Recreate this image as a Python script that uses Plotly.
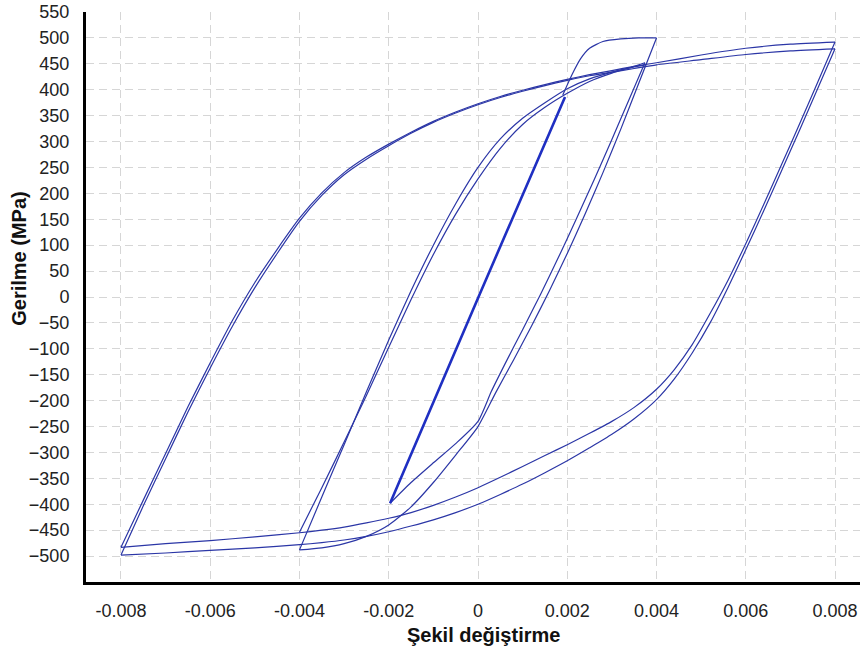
import plotly.graph_objects as go

# ---- Cyclic stress-strain test: strain (-) vs stress (MPa) ----

# Large loop (+/-0.008): ascending branches of the two cycles
big_up_x = [-0.008, -0.0075, -0.007, -0.0065, -0.006, -0.0055, -0.005, -0.0045, -0.004,
            -0.0035, -0.003, -0.0025, -0.002, -0.0015, -0.001, -0.0005, 0.0, 0.0005, 0.001,
            0.0015, 0.002, 0.0025, 0.003, 0.0035, 0.004, 0.005, 0.006, 0.007, 0.008]
big_up1_y = [-483, -392, -302, -212, -127, -45, 28, 92, 152, 201, 240, 270, 295, 318, 339,
             357, 373, 387, 399, 410, 420, 429, 437, 445, 452, 467, 480, 488, 492]
big_up2_y = [-498, -403, -312, -222, -137, -56, 18, 84, 146, 196, 236, 266, 292, 316, 337,
             355, 371, 385, 397, 408, 418, 427, 434, 441, 448, 458, 468, 475, 479]

# Large loop: descending branches of the two cycles
big_down_x = [0.008, 0.0076, 0.0072, 0.0068, 0.0064, 0.006, 0.0056, 0.0052, 0.0048, 0.0044,
              0.004, 0.0035, 0.003, 0.0025, 0.002, 0.0015, 0.001, 0.0005, 0.0, -0.0005, -0.001,
              -0.0015, -0.002, -0.0025, -0.003, -0.0035, -0.004, -0.005, -0.006, -0.007, -0.008]
big_down1_y = [492, 412, 333, 255, 178, 103, 32, -32, -92, -140, -178, -213, -240, -263, -285,
               -306, -327, -348, -368, -386, -402, -416, -427, -436, -444, -450, -455, -463,
               -470, -476, -483]
big_down2_y = [479, 400, 321, 243, 166, 91, 18, -50, -108, -158, -198, -235, -265, -291, -316,
               -339, -361, -381, -400, -416, -430, -442, -453, -462, -469, -474, -478, -484,
               -489, -494, -498]

# Medium loop (+/-0.004): ascending branches
mid_up_x = [-0.004, -0.0035, -0.003, -0.0025, -0.002, -0.0015, -0.001, -0.0005, 0.0, 0.0005,
            0.001, 0.0015, 0.002, 0.0025, 0.003, 0.0035, 0.00374]
mid_up1_y = [-488, -386, -285, -183, -83, 12, 100, 180, 250, 305, 345, 375, 402, 421, 434,
             444, 448]
mid_up2_y = [-454, -368, -280, -190, -97, -5, 82, 160, 228, 287, 333, 366, 393, 416, 432,
             445, 452]

# Medium loop: descending branch from the first peak (ends at -0.004)
mid_down1_x = [0.004, 0.0036, 0.0032, 0.0028, 0.0024, 0.002, 0.0016, 0.0012, 0.0008, 0.0004,
               0.0, -0.0005, -0.001, -0.0015, -0.002, -0.0025, -0.003, -0.0035, -0.004]
mid_down1_y = [500, 412, 324, 240, 160, 84, 12, -56, -121, -184, -250, -305, -358, -405, -440,
               -462, -476, -484, -488]

# Medium loop: descending branch from the second peak (ends at -0.002)
mid_down2_x = [0.00374, 0.0034, 0.003, 0.0026, 0.0022, 0.0018, 0.0014, 0.001, 0.0006, 0.0003,
               0.0, -0.0005, -0.001, -0.0015, -0.00197]
mid_down2_y = [452, 384, 304, 226, 150, 76, 5, -63, -130, -182, -240, -283, -320, -358, -398]

# Small elastic cycles (+/-0.002)
small_x = [-0.00197, 0.00004, 0.00195]
small_y = [-398, 6, 386]

# First loading up to 0.004
first_top_x = [0.0019, 0.0021, 0.0023, 0.0025, 0.0028, 0.0032, 0.0036, 0.004]
first_top_y = [390, 428, 460, 480, 493, 498, 500, 500]

x_ticks = [-0.008, -0.006, -0.004, -0.002, 0, 0.002, 0.004, 0.006, 0.008]
x_labels = ["-0.008", "-0.006", "-0.004", "-0.002", "0", "0.002", "0.004", "0.006", "0.008"]
y_ticks = list(range(-500, 551, 50))
y_grid = list(range(-500, 501, 50))

LINE = "#2b36a6"
THICK = "#1f2fc2"
FONT = "Liberation Sans, Arial, sans-serif"

fig = go.Figure()

thin_branches = [
    (big_up_x, big_up1_y), (big_up_x, big_up2_y),
    (big_down_x, big_down1_y), (big_down_x, big_down2_y),
    (mid_up_x, mid_up1_y), (mid_up_x, mid_up2_y),
    (mid_down1_x, mid_down1_y), (mid_down2_x, mid_down2_y),
    (first_top_x, first_top_y),
]
for bx, by in thin_branches:
    fig.add_trace(go.Scatter(x=bx, y=by, mode="lines",
                             line=dict(color=LINE, width=1.2, shape="spline", smoothing=0.6),
                             hoverinfo="skip", showlegend=False))

fig.add_trace(go.Scatter(x=small_x, y=small_y, mode="lines",
                         line=dict(color=THICK, width=2.6),
                         hoverinfo="skip", showlegend=False))

GRID = "#d6d6d6"
DASH = "8px,5px"

fig.update_layout(
    width=860, height=653,
    margin=dict(l=86, r=0, t=12, b=71),
    paper_bgcolor="white", plot_bgcolor="white",
    font=dict(family=FONT, color="#222222"),
    xaxis=dict(range=[-0.008784, 0.00856], tickmode="array", tickvals=x_ticks, ticktext=x_labels,
               showline=True, linecolor="black", linewidth=3, zeroline=False, ticks="",
               tickfont=dict(size=18, family=FONT, color="#222222"), ticklabelstandoff=10,
               showgrid=True, gridcolor=GRID, gridwidth=1, griddash=DASH),
    yaxis=dict(range=[-550, 550], tickmode="array", tickvals=y_ticks,
               showline=True, linecolor="black", linewidth=3, zeroline=False, ticks="",
               tickfont=dict(size=18, family=FONT, color="#222222"), ticklabelstandoff=10,
               showgrid=False,
               minor=dict(tickmode="array", tickvals=y_grid, ticks="", showgrid=True,
                          gridcolor=GRID, gridwidth=1, griddash=DASH)),
    annotations=[
        dict(text="<b>Gerilme (MPa)</b>", xref="paper", yref="paper", x=-0.0866, y=0.567,
             textangle=-90, showarrow=False, font=dict(size=20, family=FONT, color="#111111"),
             xanchor="center", yanchor="middle"),
        dict(text="<b>Şekil değiştirme</b>", xref="paper", yref="paper", x=0.514, y=-0.093,
             showarrow=False, font=dict(size=20, family=FONT, color="#111111"),
             xanchor="center", yanchor="middle"),
    ],
)

fig.write_html("out.html")
